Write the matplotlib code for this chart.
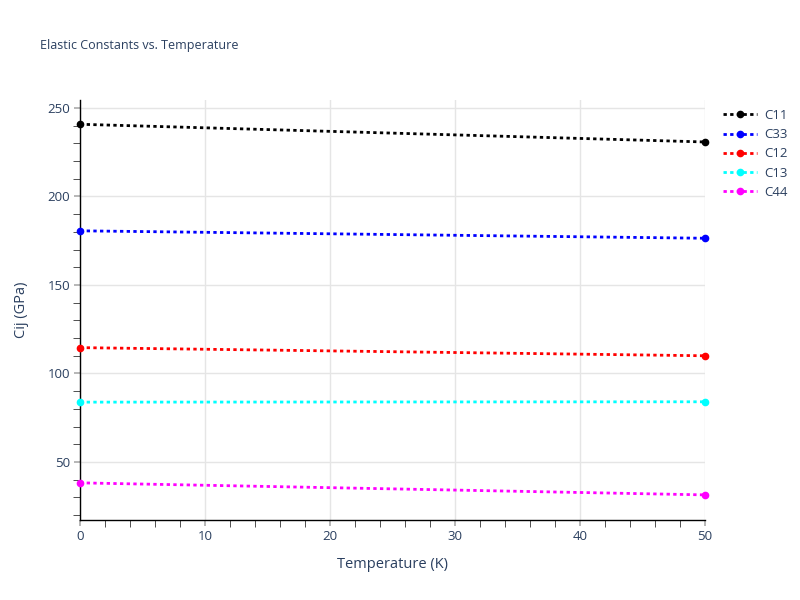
import matplotlib.pyplot as plt
from matplotlib.ticker import MultipleLocator

plt.rcParams['font.family'] = ['Open Sans', 'DejaVu Sans']

# Data
temperature = [0, 50]
c11 = [240.8, 230.8]
c33 = [180.6, 176.4]
c12 = [114.6, 110.0]
c13 = [83.8, 84.0]
c44 = [38.2, 31.4]

names = ['C11', 'C33', 'C12', 'C13', 'C44']
series = [c11, c33, c12, c13, c44]
colors = ['black', 'blue', 'red', 'cyan', 'magenta']

text_color = '#2a3f5f'
grid_color = '#e5e5e5'

fig = plt.figure(figsize=(8, 6), dpi=100)
ax = fig.add_axes([0.1, 0.1333, 0.78125, 0.7])

for name, vals, col in zip(names, series, colors):
    ax.plot(temperature, vals, color=col, linestyle=(0, (1.2, 1.2)), linewidth=2,
            marker='o', markersize=4.5, label=name, clip_on=False, zorder=3)

ax.set_xlim(0, 50)
ax.set_ylim(17.2, 254.5)
ax.xaxis.set_major_locator(MultipleLocator(10))
ax.xaxis.set_minor_locator(MultipleLocator(2))
ax.yaxis.set_major_locator(MultipleLocator(50))
ax.yaxis.set_minor_locator(MultipleLocator(10))

ax.grid(True, which='major', color=grid_color, linewidth=1)
ax.set_axisbelow(True)
for side in ['top', 'right']:
    ax.spines[side].set_visible(False)
for side in ['left', 'bottom']:
    ax.spines[side].set_color('black')
    ax.spines[side].set_linewidth(1)

ax.tick_params(which='major', direction='out', length=4, width=1.2, color='#aaaaaa',
               labelcolor=text_color, labelsize=9.5, pad=3)
ax.tick_params(which='minor', direction='out', length=5, color='#333333')

ax.set_xlabel('Temperature (K)', color=text_color, fontsize=10.5, labelpad=10)
ax.set_ylabel('Cij (GPa)', color=text_color, fontsize=10.5, labelpad=13)

fig.text(0.05, 0.925, 'Elastic Constants vs. Temperature', color=text_color,
         fontsize=9, va='center', ha='left')

leg = ax.legend(loc='upper left', bbox_to_anchor=(1.01, 1.007), frameon=False,
                fontsize=9.5, labelspacing=0.47, handlelength=2.6, handletextpad=0.5)
for t in leg.get_texts():
    t.set_color(text_color)

fig.savefig('out.png', dpi=100)
